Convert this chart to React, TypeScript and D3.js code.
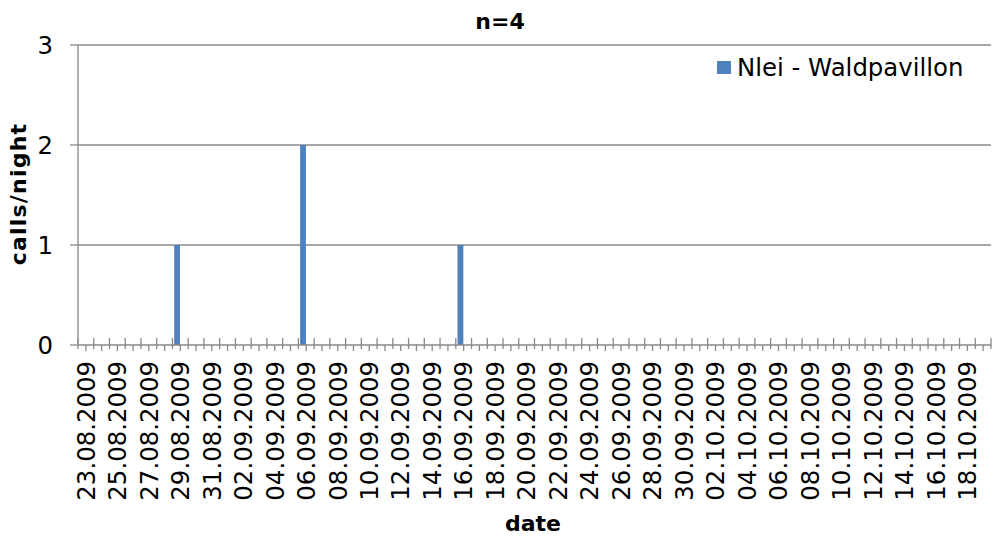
import React from "react";
import * as d3 from "d3";

const dates: string[] = [
  "23.08.2009","24.08.2009","25.08.2009","26.08.2009","27.08.2009","28.08.2009","29.08.2009","30.08.2009","31.08.2009",
  "01.09.2009","02.09.2009","03.09.2009","04.09.2009","05.09.2009","06.09.2009","07.09.2009","08.09.2009","09.09.2009",
  "10.09.2009","11.09.2009","12.09.2009","13.09.2009","14.09.2009","15.09.2009","16.09.2009","17.09.2009","18.09.2009",
  "19.09.2009","20.09.2009","21.09.2009","22.09.2009","23.09.2009","24.09.2009","25.09.2009","26.09.2009","27.09.2009",
  "28.09.2009","29.09.2009","30.09.2009","01.10.2009","02.10.2009","03.10.2009","04.10.2009","05.10.2009","06.10.2009",
  "07.10.2009","08.10.2009","09.10.2009","10.10.2009","11.10.2009","12.10.2009","13.10.2009","14.10.2009","15.10.2009",
  "16.10.2009","17.10.2009","18.10.2009","19.10.2009",
];

const callsPerNight: number[] = [
  0,0,0,0,0,0,1,0,0,
  0,0,0,0,0,2,0,0,0,
  0,0,0,0,0,0,1,0,0,
  0,0,0,0,0,0,0,0,0,
  0,0,0,0,0,0,0,0,0,
  0,0,0,0,0,0,0,0,0,
  0,0,0,0,
];

const yTicks: number[] = [0, 1, 2, 3];
const seriesName = "Nlei - Waldpavillon";
const chartTitle = "n=4";
const xTitle = "date";
const yTitle = "calls/night";

const W = 1003;
const H = 540;
const M = { left: 78, right: 991, top: 45, bottom: 345 };
const FONT = "'DejaVu Sans', Verdana, sans-serif";
const GRID = "#888888";
const BAR = "#4F81BD";
const FS = 24.4;

export default function App() {
  const x = d3.scaleBand<string>().domain(dates).range([M.left, M.right]).padding(0);
  const y = d3.scaleLinear().domain([0, 3]).range([M.bottom, M.top]);
  const bw = x.bandwidth();
  const labelDates = dates.filter((_, i) => i % 2 === 0 && i < 57);

  return (
    <svg width={W} height={H} style={{ position: "absolute", left: 0, top: 0, display: "block" }} fontFamily={FONT}>
      <rect x={0} y={0} width={W} height={H} fill="#fff" />
      {yTicks.filter((t) => t > 0).map((t) => (
        <line key={"g" + t} x1={M.left} x2={M.right} y1={y(t)} y2={y(t)} stroke={GRID} strokeWidth={1.3} />
      ))}
      <line x1={M.left} x2={M.left} y1={M.top} y2={M.bottom} stroke={GRID} strokeWidth={1.3} />
      {yTicks.map((t) => (
        <g key={"yt" + t}>
          <line x1={M.left - 8} x2={M.left} y1={y(t)} y2={y(t)} stroke={GRID} strokeWidth={1.3} />
          <text x={53} y={y(t)} dy="0.36em" textAnchor="end" fontSize={FS} fill="#000">{t}</text>
        </g>
      ))}
      {dates.map((d, i) => callsPerNight[i] > 0 ? (
        <rect key={"b" + d} x={(x(d) as number) + bw * 0.11} width={bw * 0.37} y={y(callsPerNight[i])} height={y(0) - y(callsPerNight[i])} fill={BAR} />
      ) : null)}
      <line x1={M.left} x2={M.right} y1={y(0)} y2={y(0)} stroke={GRID} strokeWidth={1.3} />
      {dates.map((d) => (
        <line key={"mt" + d} x1={x(d) as number} x2={x(d) as number} y1={y(0) - 7} y2={y(0) + 4} stroke={GRID} strokeWidth={1.3} />
      ))}
      <line x1={M.right} x2={M.right} y1={y(0) - 7} y2={y(0) + 4} stroke={GRID} strokeWidth={1.3} />
      {dates.map((d) => (
        <line key={"nt" + d} x1={(x(d) as number) + bw / 2} x2={(x(d) as number) + bw / 2} y1={y(0)} y2={y(0) + 6} stroke={GRID} strokeWidth={1.3} />
      ))}
      {labelDates.map((d) => {
        const cx = (x(d) as number) + bw / 2;
        return (
          <text key={"xl" + d} transform={`translate(${cx},${361}) rotate(-90)`} textAnchor="end" dy="0.36em" fontSize={FS} fill="#000">{d}</text>
        );
      })}
      <text x={500} y={29} textAnchor="middle" fontSize={22} fontWeight="bold" fill="#000">{chartTitle}</text>
      <text x={533} y={531} textAnchor="middle" fontSize={22} fontWeight="bold" fill="#000">{xTitle}</text>
      <text transform={`translate(26,194) rotate(-90)`} textAnchor="middle" fontSize={22} fontWeight="bold" fill="#000" letterSpacing={1.2}>{yTitle}</text>
      <rect x={717} y={61} width={14} height={13} fill={BAR} />
      <text x={737} y={75.5} fontSize={FS} fill="#000">{seriesName}</text>
    </svg>
  );
}
